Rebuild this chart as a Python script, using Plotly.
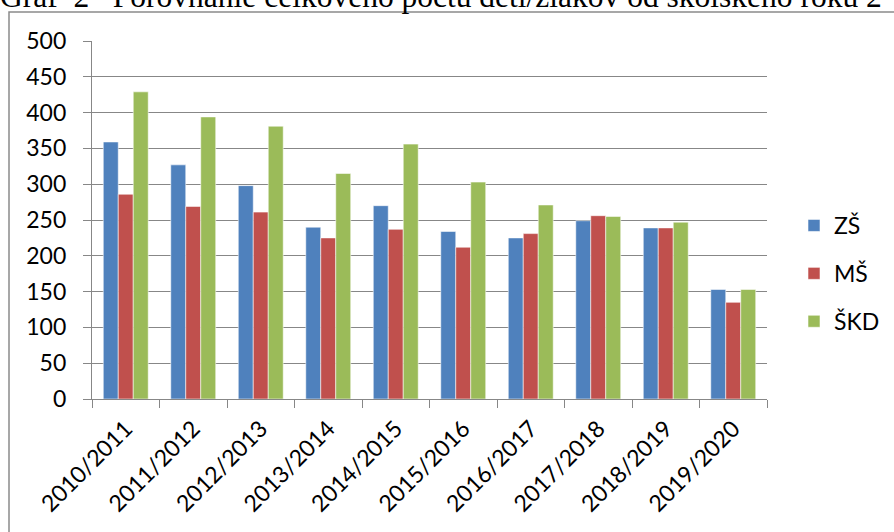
import plotly.graph_objects as go

years = ["2010/2011", "2011/2012", "2012/2013", "2013/2014", "2014/2015",
         "2015/2016", "2016/2017", "2017/2018", "2018/2019", "2019/2020"]
zs = [359, 327, 298, 240, 270, 234, 225, 249, 239, 153]
ms = [286, 269, 261, 225, 237, 212, 231, 256, 239, 135]
skd = [429, 394, 381, 315, 356, 303, 271, 255, 247, 153]

series_names = ["ZŠ", "MŠ", "ŠKD"]
series_colors = ["#4F81BD", "#C0504D", "#9BBB59"]
title_text = "Graf  2   Porovnanie celkového počtu detí/žiakov od školského roku 2"

W, H = 894, 532
L, R, T, B = 92, 127, 41, 133
pw, ph = W - L - R, H - T - B

def px(x):
    return (x - L) / pw

def py(y):
    return (H - B - y) / ph

fig = go.Figure()
for name, vals, col in zip(series_names, [zs, ms, skd], series_colors):
    fig.add_trace(go.Bar(
        x=years, y=vals, name=name, legendgroup=name,
        marker=dict(color=col, line=dict(color="rgba(255,255,255,0.55)", width=1)),
    ))

font = "Lato, 'Open Sans', sans-serif"
grid = "#878787"

fig.update_layout(
    width=W, height=H,
    margin=dict(l=L, r=R, t=T, b=B, autoexpand=False),
    paper_bgcolor="white", plot_bgcolor="white",
    barmode="group", bargap=0.334, bargroupgap=0,
    font=dict(family=font, size=23, color="black"),
    showlegend=True,
    legend=dict(x=px(794), y=py(204), xanchor="left", yanchor="top",
                font=dict(family=font, size=23, color="black"),
                tracegroupgap=15, bgcolor="rgba(0,0,0,0)"),
    xaxis=dict(type="category", tickangle=-45, showgrid=False,
               showline=True, linecolor=grid, linewidth=1.3,
               ticks="outside", ticklen=8, tickcolor=grid, tickwidth=1.3,
               tickson="boundaries", ticklabelstandoff=6,
               tickfont=dict(family=font, size=23, color="black")),
    yaxis=dict(range=[0, 500], dtick=50, tick0=0, showgrid=True,
               gridcolor=grid, gridwidth=1.3, zeroline=False,
               showline=True, linecolor=grid, linewidth=1.3,
               ticks="outside", ticklen=8, tickcolor=grid, tickwidth=1.3,
               ticklabelstandoff=12,
               tickfont=dict(family=font, size=23, color="black")),
    shapes=[dict(type="rect", xref="paper", yref="paper",
                 x0=px(9), x1=px(W + 20), y0=py(H + 20), y1=py(12),
                 line=dict(color="#8a8a8a", width=1.5), fillcolor="rgba(0,0,0,0)",
                 layer="below")],
    annotations=[dict(text=title_text, xref="paper", yref="paper",
                      x=px(-2), y=py(7), xanchor="left", yanchor="bottom",
                      showarrow=False, yshift=-9,
                      font=dict(family="'Liberation Serif', 'Times New Roman', serif",
                                size=31.5, color="black"))],
)

fig.write_html("out.html", config={"displayModeBar": False},
               post_script="document.body.style.margin='0px';")
